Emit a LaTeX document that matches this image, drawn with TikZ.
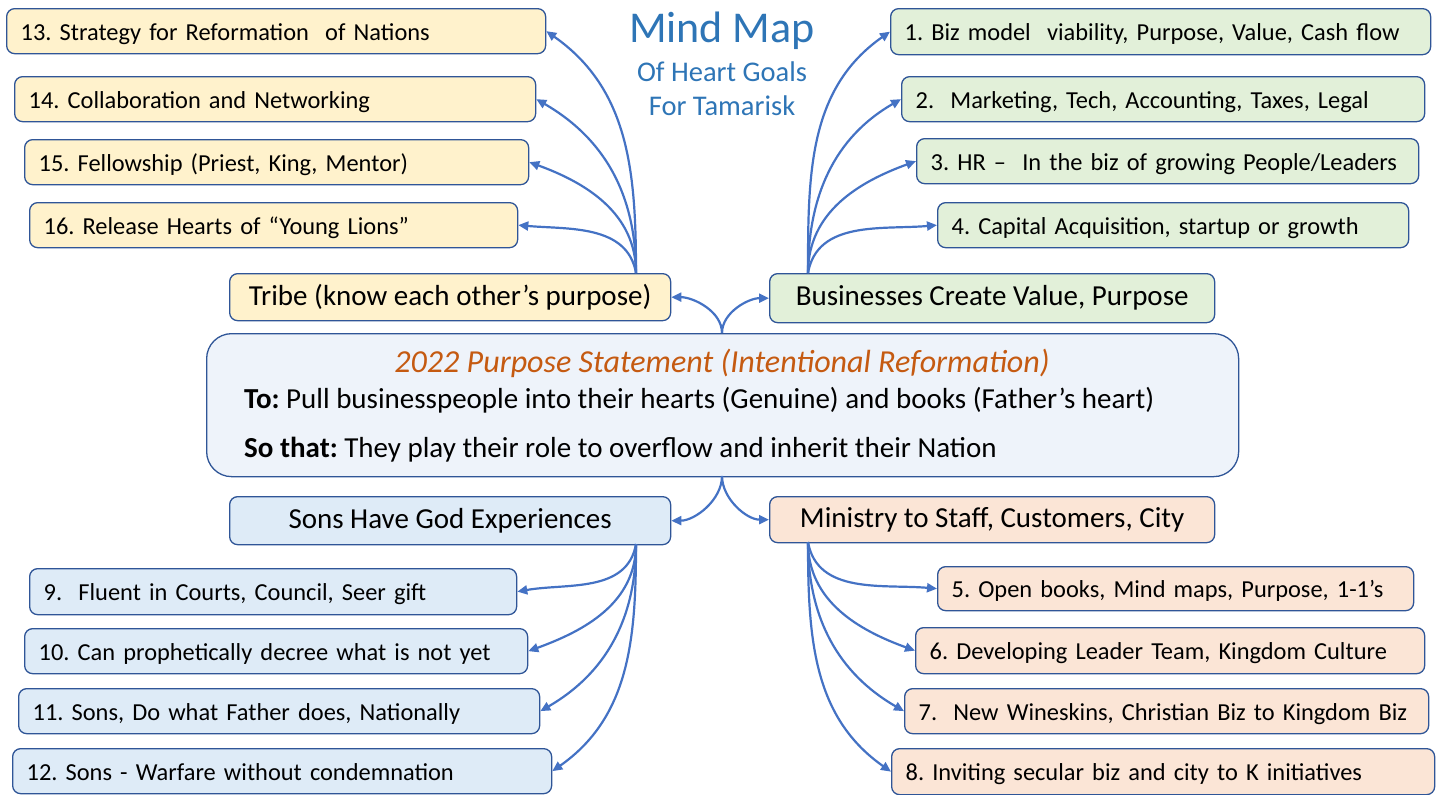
\documentclass[tikz,border=0pt]{standalone}
\usepackage{fontspec}
\setmainfont{Carlito}
\usetikzlibrary{arrows.meta}
\definecolor{bord}{HTML}{2F5597}
\definecolor{arr}{HTML}{4472C4}
\definecolor{ttl}{HTML}{2E75B6}
\definecolor{orng}{HTML}{C55A11}
\definecolor{fy}{HTML}{FFF2CC}
\definecolor{fg}{HTML}{E2F0D9}
\definecolor{fb}{HTML}{DEEBF7}
\definecolor{fo}{HTML}{FBE5D6}
\definecolor{fc}{HTML}{EEF3FA}
\frenchspacing
\begin{document}
\begin{tikzpicture}[x=1pt,y=-1pt,
  box/.style={draw=bord, line width=1.3pt, rounded corners=8pt, inner ysep=0pt, anchor=north west},
  item/.style={box, align=left, inner xsep=14pt, minimum height=45pt, text height=21pt, text depth=3pt, font=\fontsize{24.4}{29}\selectfont},
  hub/.style={box, align=center, inner xsep=0pt, font=\fontsize{29}{34}\selectfont},
  conn/.style={draw=arr, line width=2.2pt, -{Triangle[length=10pt,width=9pt]}},
  ttext/.style={text=ttl, inner sep=0pt},
  ctext/.style={anchor=west, inner sep=0pt, font=\fontsize{29}{34}\selectfont}
]
\useasboundingbox (0,0) rectangle (1438,795);

% title
\node[ttext, font=\fontsize{44}{50}\selectfont] (t1) at (722,31) {Mind Map};
\node[ttext, font=\fontsize{28.5}{33}\selectfont] (t2) at (722,72) {Of Heart Goals};
\node[ttext, font=\fontsize{28.5}{33}\selectfont] (t3) at (722,106) {For Tamarisk};

% central box
\node[box, fill=fc, rounded corners=25pt, minimum width=1032pt, minimum height=143pt] (c) at (206,333) {};
\node[text=orng, inner sep=0pt, font=\itshape] (ct) at (722,363) {\resizebox{655pt}{!}{2022 Purpose Statement (Intentional Reformation)}};
\node[ctext] (cl1) at (244,400) {\textbf{To:} Pull businesspeople into their hearts (Genuine) and books (Father’s heart)};
\node[ctext] (cl2) at (244,450) {\textbf{So that:} They play their role to overflow and inherit their Nation};

% hubs
\node[hub, fill=fy, minimum width=441pt, minimum height=47pt] (tribe) at (229,273) {Tribe (know each other’s purpose)};
\node[hub, fill=fg, minimum width=445pt, minimum height=49pt] (biz) at (769,273) {Businesses Create Value, Purpose};
\node[hub, fill=fb, minimum width=441pt, minimum height=48pt] (sons) at (229,496) {Sons Have God Experiences};
\node[hub, fill=fo, minimum width=445pt, minimum height=46pt] (min) at (769,496) {Ministry to Staff, Customers, City};

% left top items
\node[item, fill=fy, text width=511pt] (n13) at (6,8) {\mbox{13. Strategy for Reformation\ \ of Nations}};
\node[item, fill=fy, text width=493pt] (n14) at (14,76) {\mbox{14. Collaboration and Networking}};
\node[item, fill=fy, text width=476pt] (n15) at (24,139) {\mbox{15. Fellowship (Priest, King, Mentor)}};
\node[item, fill=fy, text width=460pt] (n16) at (29,202) {\mbox{16. Release Hearts of “Young Lions”}};

% right top items
\node[item, fill=fg, text width=512pt, minimum height=46pt] (n1) at (890,8) {\mbox{1. Biz model\ \ viability, Purpose,\ Value,\ Cash flow}};
\node[item, fill=fg, text width=495pt] (n2) at (901,76) {\mbox{2.\ \ Marketing, Tech, Accounting, Taxes, Legal}};
\node[item, fill=fg, text width=474pt] (n3) at (916,138) {\mbox{3. HR –\ \ In the biz of growing People/Leaders}};
\node[item, fill=fg, text width=443pt] (n4) at (937,202) {\mbox{4. Capital Acquisition, startup or growth}};

% left bottom items
\node[item, fill=fb, text width=459pt, minimum height=46pt] (n9) at (29,568) {\mbox{9.\ \ Fluent in Courts, Council, Seer gift}};
\node[item, fill=fb, text width=475pt] (n10) at (24,628) {\mbox{10. Can prophetically decree what is not yet}};
\node[item, fill=fb, text width=493pt] (n11) at (18,688) {\mbox{11. Sons, Do what Father does, Nationally}};
\node[item, fill=fb, text width=511pt] (n12) at (12,748) {\mbox{12. Sons - Warfare without condemnation}};

% right bottom items
\node[item, fill=fo, text width=448pt, minimum height=44pt] (n5) at (937,566) {\mbox{5. Open books, Mind maps, Purpose, 1-1’s}};
\node[item, fill=fo, text width=481pt, minimum height=46pt] (n6) at (915,627) {\mbox{6. Developing Leader Team, Kingdom Culture}};
\node[item, fill=fo, text width=496pt] (n7) at (904,688) {\mbox{7.\ \ New Wineskins, Christian Biz to Kingdom Biz}};
\node[item, fill=fo, text width=515pt, minimum height=46pt] (n8) at (891,748) {\mbox{8. Inviting secular biz and city to K initiatives}};

% anchor points
\coordinate (ctop) at (722,333);
\coordinate (cbot) at (722,476);
\coordinate (tt) at (636,273);
\coordinate (bt) at (808,273);
\coordinate (sb) at (636,544);
\coordinate (mb) at (808,542);

% connectors from centre
\draw[conn] (ctop) to[out=90,in=0,looseness=0.9] (tribe.east);
\draw[conn] (ctop) to[out=90,in=180,looseness=0.9] (biz.west);
\draw[conn] (cbot) to[out=-90,in=0,looseness=0.9] (sons.east);
\draw[conn] (cbot) to[out=-90,in=180,looseness=0.9] (min.west);

% tribe
\draw[conn] (tt) to[out=90,in=-35,looseness=1.0] (n13.east);
\draw[conn] (tt) to[out=90,in=-30,looseness=1.0] (n14.east);
\draw[conn] (tt) to[out=90,in=-20,looseness=1.0] (n15.east);
\draw[conn] (tt) to[out=100,in=-5,looseness=1.0] (n16.east);

% business
\draw[conn] (bt) to[out=90,in=215,looseness=1.0] (n1.west);
\draw[conn] (bt) to[out=90,in=210,looseness=1.0] (n2.west);
\draw[conn] (bt) to[out=90,in=200,looseness=1.0] (n3.west);
\draw[conn] (bt) to[out=80,in=185,looseness=1.0] (n4.west);

% sons
\draw[conn] (sb) to[out=-100,in=10,looseness=1.0] (n9.east);
\draw[conn] (sb) to[out=-90,in=20,looseness=1.0] (n10.east);
\draw[conn] (sb) to[out=-90,in=30,looseness=1.0] (n11.east);
\draw[conn] (sb) to[out=-90,in=35,looseness=1.0] (n12.east);

% ministry
\draw[conn] (mb) to[out=-80,in=175,looseness=1.0] (n5.west);
\draw[conn] (mb) to[out=-90,in=160,looseness=1.0] (n6.west);
\draw[conn] (mb) to[out=-90,in=150,looseness=1.0] (n7.west);
\draw[conn] (mb) to[out=-90,in=145,looseness=1.0] (n8.west);
\end{tikzpicture}
\end{document}
